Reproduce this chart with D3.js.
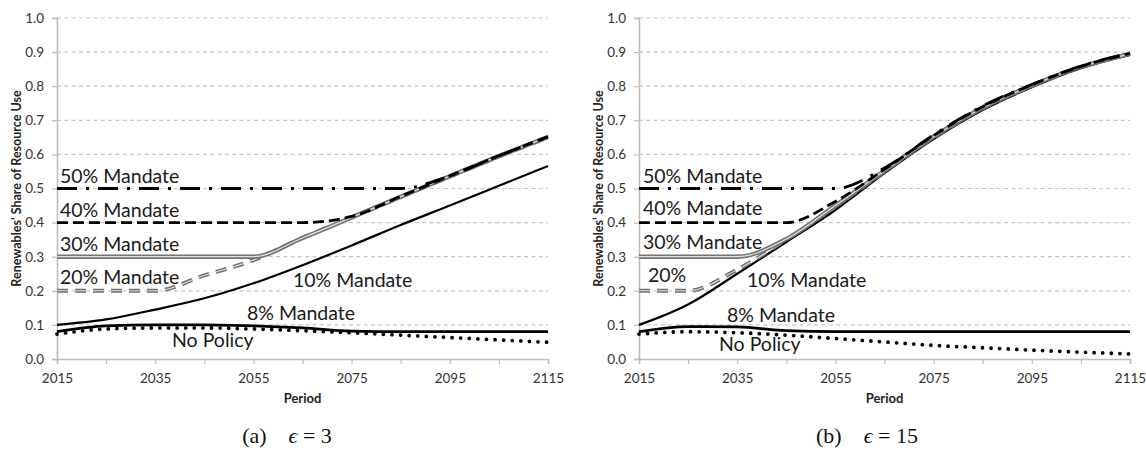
<!DOCTYPE html>
<html>
<head>
<meta charset="utf-8">
<script src="https://cdn.jsdelivr.net/npm/d3@7"></script>
<style>
  html, body { margin: 0; padding: 0; background: #fff; }
  svg { display: block; }
</style>
</head>
<body>
<svg id="chart" width="1146" height="451"></svg>
<script>
// Model periods (one point per decade)
const periods = [2015, 2025, 2035, 2045, 2055, 2065, 2075, 2085, 2095, 2105, 2115];
const xTickYears = [2015, 2035, 2055, 2075, 2095, 2115];
const yTicks = [0, 0.1, 0.2, 0.3, 0.4, 0.5, 0.6, 0.7, 0.8, 0.9, 1.0];

// Panel (a): epsilon = 3 — renewables' share of resource use
const noPolicyA = [0.073, 0.088, 0.091, 0.091, 0.088, 0.083, 0.077, 0.070, 0.063, 0.056, 0.049];
const mandate8A  = [0.080, 0.097, 0.100, 0.100, 0.097, 0.091, 0.082, 0.080, 0.080, 0.080, 0.080];
const mandate10A = [0.100, 0.116, 0.145, 0.178, 0.222, 0.275, 0.333, 0.393, 0.450, 0.508, 0.566];
const mandate20A = [0.200, 0.200, 0.200, 0.245, 0.290, 0.355, 0.415, 0.475, 0.535, 0.594, 0.650];
const mandate30A = [0.300, 0.300, 0.300, 0.300, 0.300, 0.355, 0.415, 0.476, 0.536, 0.595, 0.651];
const mandate40A = [0.400, 0.400, 0.400, 0.400, 0.400, 0.400, 0.418, 0.477, 0.537, 0.596, 0.652];
const mandate50A = [0.500, 0.500, 0.500, 0.500, 0.500, 0.500, 0.500, 0.500, 0.537, 0.596, 0.652];

// Panel (b): epsilon = 15
const noPolicyB = [0.073, 0.080, 0.077, 0.070, 0.060, 0.050, 0.040, 0.033, 0.026, 0.020, 0.015];
const mandate8B  = [0.080, 0.095, 0.094, 0.083, 0.080, 0.080, 0.080, 0.080, 0.080, 0.080, 0.080];
const mandate10B = [0.100, 0.160, 0.250, 0.343, 0.437, 0.545, 0.645, 0.730, 0.797, 0.853, 0.892];
const mandate20B = [0.200, 0.200, 0.262, 0.350, 0.447, 0.550, 0.650, 0.735, 0.800, 0.856, 0.895];
const mandate30B = [0.300, 0.300, 0.300, 0.352, 0.450, 0.552, 0.652, 0.737, 0.802, 0.857, 0.895];
const mandate40B = [0.400, 0.400, 0.400, 0.400, 0.462, 0.556, 0.655, 0.740, 0.804, 0.858, 0.896];
const mandate50B = [0.500, 0.500, 0.500, 0.500, 0.500, 0.560, 0.657, 0.742, 0.805, 0.859, 0.897];

const captionA = "3";
const captionB = "15";

const svg = d3.select("#chart");
const labelFont = "Lato, 'Open Sans', sans-serif";

// Line styles per scenario
const styles = {
  noPolicy: [{ stroke: "#000", width: 3.8, dash: "0 8.6", cap: "round" }],
  m8:  [{ stroke: "#000", width: 2.8 }],
  m10: [{ stroke: "#000", width: 2.2 }],
  m20: [{ stroke: "#6f6f6f", width: 4, dash: "11 7" }, { stroke: "#e0e0e0", width: 1.1, dash: "11 7" }],
  m30: [{ stroke: "#737373", width: 4.4 }, { stroke: "#e2e2e2", width: 1.2 }],
  m40: [{ stroke: "#000", width: 2.8, dash: "11 5" }],
  m50: [{ stroke: "#000", width: 2.8, dash: "20 9 3 9" }]
};

function drawPanel(cfg) {
  const g = svg.append("g");
  const x = d3.scaleLinear().domain([2015, 2115]).range([cfg.left, cfg.left + 491]);
  const y = d3.scaleLinear().domain([0, 1]).range([359, 18]);

  // Horizontal grid lines
  g.append("g").selectAll("line").data(yTicks.filter(t => t > 0)).join("line")
    .attr("x1", x(2015)).attr("x2", x(2115))
    .attr("y1", d => y(d)).attr("y2", d => y(d))
    .attr("stroke", "#c6c6c6").attr("stroke-width", 1.2)
    .attr("stroke-dasharray", "4 3.3");

  // Y axis
  const yAxis = d3.axisLeft(y).tickValues(yTicks).tickFormat(d3.format(".1f"))
    .tickSize(5).tickPadding(8);
  const ya = g.append("g").attr("transform", `translate(${x(2015)},0)`).call(yAxis);
  ya.select(".domain").attr("stroke", "#bdbdbd").attr("stroke-width", 1.6);
  ya.selectAll(".tick line").attr("stroke", "#bdbdbd").attr("stroke-width", 1.2);
  ya.selectAll(".tick text").attr("font-family", labelFont).attr("font-size", 13.5)
    .attr("fill", "#333");

  // X axis
  const xAxis = d3.axisBottom(x).tickValues(periods)
    .tickFormat(d => xTickYears.includes(d) ? d : "").tickSize(5).tickPadding(9);
  const xa = g.append("g").attr("transform", `translate(0,${y(0)})`).call(xAxis);
  xa.select(".domain").attr("stroke", "#bdbdbd").attr("stroke-width", 1.6);
  xa.selectAll(".tick line").attr("stroke", "#bdbdbd").attr("stroke-width", 1.2);
  xa.selectAll(".tick text").attr("font-family", labelFont).attr("font-size", 13.5)
    .attr("fill", "#333");

  // Axis titles
  g.append("text")
    .attr("transform", `translate(${cfg.left - 41},${(y(0) + y(1)) / 2}) rotate(-90)`)
    .attr("text-anchor", "middle").attr("dominant-baseline", "central")
    .attr("font-family", labelFont).attr("font-weight", "bold").attr("font-size", 12.5)
    .attr("fill", "#222").text("Renewables' Share of Resource Use");
  g.append("text")
    .attr("x", (x(2015) + x(2115)) / 2).attr("y", 403)
    .attr("text-anchor", "middle")
    .attr("font-family", labelFont).attr("font-weight", "bold").attr("font-size", 13)
    .attr("fill", "#222").text("Period");

  // Scenario lines
  const line = d3.line().x((d, i) => x(periods[i])).y(d => y(d)).curve(d3.curveMonotoneX);
  const series = [
    ["noPolicy", cfg.noPolicy], ["m8", cfg.m8], ["m10", cfg.m10],
    ["m20", cfg.m20], ["m30", cfg.m30], ["m40", cfg.m40], ["m50", cfg.m50]
  ];
  series.forEach(([key, vals]) => {
    styles[key].forEach(s => {
      g.append("path").datum(vals)
        .attr("d", line).attr("fill", "none")
        .attr("stroke", s.stroke).attr("stroke-width", s.width)
        .attr("stroke-dasharray", s.dash || null)
        .attr("stroke-linecap", s.cap || "butt")
        .attr("stroke-linejoin", "round");
    });
  });

  // Scenario labels
  g.append("g").selectAll("text").data(cfg.labels).join("text")
    .attr("x", d => d.x).attr("y", d => d.y)
    .attr("font-family", labelFont).attr("font-size", 19.5).attr("fill", "#1a1a1a")
    .text(d => d.text);

  // Caption
  const cap = svg.append("text")
    .attr("x", cfg.capX).attr("y", 443).attr("text-anchor", "middle")
    .attr("font-family", "'Liberation Serif', 'DejaVu Serif', serif")
    .attr("font-size", 22).attr("fill", "#111");
  cap.append("tspan").text(cfg.capTag + "\u2003");
  cap.append("tspan").attr("font-style", "italic").text("\u03F5");
  cap.append("tspan").text("\u2005=\u2005" + cfg.capVal);
}

drawPanel({
  left: 57,
  noPolicy: noPolicyA, m8: mandate8A, m10: mandate10A, m20: mandate20A,
  m30: mandate30A, m40: mandate40A, m50: mandate50A,
  labels: [
    { text: "50% Mandate", x: 60, y: 183 },
    { text: "40% Mandate", x: 60, y: 217 },
    { text: "30% Mandate", x: 60, y: 251 },
    { text: "20% Mandate", x: 60, y: 284 },
    { text: "10% Mandate", x: 293, y: 287 },
    { text: "8% Mandate", x: 247, y: 320 },
    { text: "No Policy", x: 172, y: 347 }
  ],
  capX: 287, capTag: "(a)", capVal: captionA
});

drawPanel({
  left: 639,
  noPolicy: noPolicyB, m8: mandate8B, m10: mandate10B, m20: mandate20B,
  m30: mandate30B, m40: mandate40B, m50: mandate50B,
  labels: [
    { text: "50% Mandate", x: 643, y: 183 },
    { text: "40% Mandate", x: 643, y: 215 },
    { text: "30% Mandate", x: 643, y: 249 },
    { text: "20%", x: 648, y: 282 },
    { text: "10% Mandate", x: 747, y: 287 },
    { text: "8% Mandate", x: 727, y: 322 },
    { text: "No Policy", x: 719, y: 351 }
  ],
  capX: 867, capTag: "(b)", capVal: captionB
});
</script>
</body>
</html>
